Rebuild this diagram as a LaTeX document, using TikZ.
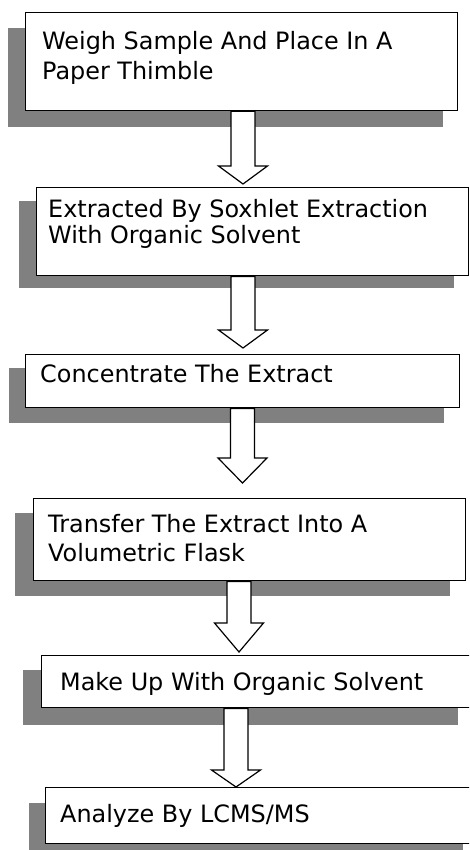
\documentclass[tikz,border=0pt]{standalone}
\usepackage{fontspec}
\setmainfont{DejaVu Sans}
\usetikzlibrary{calc}
\definecolor{shadowgray}{HTML}{808080}
\tikzset{
  shadowfill/.style={fill=shadowgray, draw=none},
  stepbox/.style={draw=black, fill=white, line width=1.4pt, anchor=north west, inner sep=0pt},
  txt/.style={anchor=base west, inner sep=0pt, font=\fontsize{23.9}{28}\selectfont},
  blockarrow/.style={draw=black, fill=white, line width=1.2pt, line join=miter,
    to path={let \p1=(\tikztostart), \p2=(\tikztotarget) in
      (\x1-12pt,\y1) -- (\x1-12pt,\y2+#1pt) -- (\x1-24.5pt,\y2+#1pt) -- (\x2,\y2)
      -- (\x1+24.5pt,\y2+#1pt) -- (\x1+12pt,\y2+#1pt) -- (\x1+12pt,\y1) -- cycle}}
}
\begin{document}
\begin{tikzpicture}[x=1pt,y=-1pt]
\path[use as bounding box, clip] (0,0) rectangle (469,850);
% shadows
\fill[shadowfill] (8,28) rectangle (443,127);
\fill[shadowfill] (19,201) rectangle (454,288);
\fill[shadowfill] (9,368) rectangle (444,423);
\fill[shadowfill] (15,513) rectangle (450,596);
\fill[shadowfill] (23,670) rectangle (458,725);
\fill[shadowfill] (29,803) rectangle (463,860);
% boxes
\node[stepbox, minimum width=432pt, minimum height=98pt] (b1) at (25,12) {};
\node[stepbox, minimum width=432pt, minimum height=88pt] (b2) at (36,187) {};
\node[stepbox, minimum width=434pt, minimum height=53pt] (b3) at (25,354) {};
\node[stepbox, minimum width=432pt, minimum height=82pt] (b4) at (33,498) {};
\node[stepbox, minimum width=440pt, minimum height=52pt] (b5) at (41,655) {};
\node[stepbox, minimum width=440pt, minimum height=56pt] (b6) at (45,787) {};
% texts
\node[txt] (t1a) at (42,49.5) {Weigh Sample And Place In A};
\node[txt] (t1b) at (42,80) {Paper Thimble};
\node[txt] (t2a) at (48,218) {Extracted By Soxhlet Extraction};
\node[txt] (t2b) at (48,243.5) {With Organic Solvent};
\node[txt] (t3) at (40,382) {Concentrate The Extract};
\node[txt] (t4a) at (48,532) {Transfer The Extract Into A};
\node[txt] (t4b) at (48,561) {Volumetric Flask};
\node[txt] (t5) at (60,690) {Make Up With Organic Solvent};
\node[txt] (t6) at (60,822) {Analyze By LCMS/MS};
% arrow tips
\coordinate (c1) at (243,184);
\coordinate (c2) at (243,348);
\coordinate (c3) at (242.5,483);
\coordinate (c4) at (239,652);
\coordinate (c5) at (236,787);
% arrows
\path[blockarrow=18] (b1.south -| c1) to (c1);
\path[blockarrow=18] (b2.south -| c2) to (c2);
\path[blockarrow=25] (b3.south -| c3) to (c3);
\path[blockarrow=29] (b4.south -| c4) to (c4);
\path[blockarrow=17] (b5.south -| c5) to (c5);
\end{tikzpicture}
\end{document}
